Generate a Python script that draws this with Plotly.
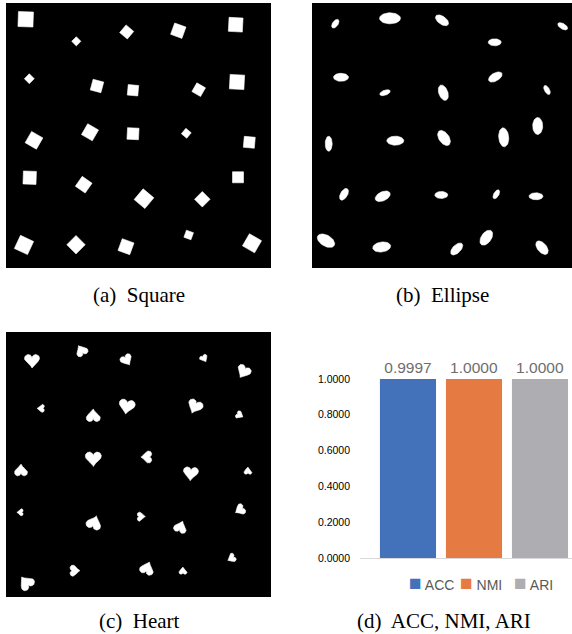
import numpy as np
import plotly.graph_objects as go

W, H = 572, 634
KY = 1.0095  # small vertical correction observed in the rendered page

# ---------------- data (image pixel coordinates inside each panel) ----------------
# (a) squares: centre x, centre y, side, rotation (deg, clockwise)
sq_x = [19.7, 70.3, 120.7, 172.3, 229.7, 23.3, 91.0, 127.0, 192.7, 231.0, 28.0, 84.0, 127.0,
        180.3, 243.3, 23.7, 77.7, 138.0, 196.3, 232.0, 18.0, 70.0, 120.0, 182.7, 246.0]
sq_y = [16.3, 38.3, 29.0, 27.7, 21.7, 75.7, 83.0, 87.3, 86.7, 79.0, 137.3, 129.3, 130.7,
        130.3, 139.3, 174.7, 181.7, 195.7, 196.3, 174.3, 242.0, 241.7, 243.7, 232.0, 240.3]
sq_side = [15, 6.5, 10, 12, 14, 7, 11, 10.5, 10, 14.5, 13, 12.5, 11.5,
           7, 11, 13, 12, 14, 11, 11, 14.5, 13, 12.5, 7.5, 14]
sq_angle = [2, 45, 40, 20, 3, 45, 15, 5, 30, 3, 30, 30, 3,
            40, 5, 2, 35, 40, 45, 0, 25, 45, 20, 20, 30]

# (b) ellipses: centre x, centre y, major, minor, rotation of major axis (deg, clockwise)
el_x = [23.3, 78.0, 130.0, 250.7, 182.7, 29.0, 73.0, 131.3, 183.3, 235.0, 16.7, 83.3, 132.0,
        191.7, 225.7, 32.0, 70.7, 129.3, 184.3, 224.0, 14.0, 69.7, 144.7, 174.3, 230.0]
el_y = [20.7, 15.3, 17.3, 23.3, 39.3, 74.3, 89.7, 89.7, 74.0, 87.0, 140.7, 137.7, 135.0,
        134.3, 123.0, 191.3, 193.3, 192.0, 191.3, 193.3, 237.7, 244.0, 246.0, 234.7, 244.7]
el_major = [10, 21, 15, 11, 13, 15, 11, 16, 15, 10, 15, 17, 17,
            19, 17, 13, 16, 13, 10, 14, 19, 18, 15, 17, 16]
el_minor = [5.5, 11, 8, 5.5, 7, 8, 5, 9, 8, 5, 7, 9, 10,
            10, 10, 7, 9, 7, 5, 7, 11, 10, 8, 10, 9]
el_angle = [-55, 0, 35, 30, 0, 0, -20, 70, -30, 60, 90, 0, 55,
            85, 90, -60, -25, 0, -60, 0, 30, -8, -45, -55, 50]

# (c) hearts: centre x, centre y, width, rotation (deg, clockwise; 0 = point down)
ht_x = [26.0, 75.3, 120.7, 198.0, 237.3, 34.7, 87.3, 120.7, 188.7, 233.7, 15.0, 87.3, 140.3,
        184.7, 242.0, 14.0, 88.3, 135.3, 174.7, 233.7, 69.0, 141.3, 177.0, 225.3, 20.0]
ht_y = [29.3, 18.3, 28.3, 26.7, 40.0, 76.3, 83.3, 75.0, 75.0, 83.3, 138.0, 127.3, 125.0,
        142.0, 138.7, 180.3, 190.3, 184.7, 194.7, 178.0, 238.7, 236.0, 238.7, 226.3, 250.3]
ht_size = [15, 12, 12, 8, 14, 8, 14, 16, 15, 8, 13, 16, 12,
           15, 8, 7, 15, 9, 13, 11, 11, 14, 8, 9, 15]
ht_angle = [0, 150, -30, -30, 30, 90, 180, 10, 25, -60, 180, 0, 90,
            5, 180, 90, 200, -90, 200, 60, -90, 200, 180, 60, 140]

# (d) metrics
metrics = ["ACC", "NMI", "ARI"]
scores = [0.9997, 1.0000, 1.0000]
bar_colors = ["#4372BB", "#E67A43", "#AEAEB2"]
y_ticks = [0.0, 0.2, 0.4, 0.6, 0.8, 1.0]

captions = ["(a)  Square", "(b)  Ellipse", "(c)  Heart", "(d)  ACC, NMI, ARI"]


# ---------------- helpers ----------------
def rotate(px, py, ang):
    a = np.radians(ang)
    return px * np.cos(a) - py * np.sin(a), px * np.sin(a) + py * np.cos(a)


def polys_to_xy(polys):
    xs, ys = [], []
    for px, py in polys:
        xs += list(px) + [px[0], None]
        ys += list(py) + [py[0], None]
    return xs, ys


def squares(cx, cy, side, ang):
    out = []
    for x, y, s, a in zip(cx, cy, side, ang):
        px = np.array([-1, 1, 1, -1]) * s / 2
        py = np.array([-1, -1, 1, 1]) * s / 2
        rx, ry = rotate(px, py, a)
        out.append((rx + x, ry + y))
    return polys_to_xy(out)


def ellipses(cx, cy, major, minor, ang):
    t = np.linspace(0, 2 * np.pi, 48, endpoint=False)
    out = []
    for x, y, M, m, a in zip(cx, cy, major, minor, ang):
        rx, ry = rotate(M / 2 * np.cos(t), m / 2 * np.sin(t), a)
        out.append((rx + x, ry + y))
    return polys_to_xy(out)


def hearts(cx, cy, size, ang):
    t = np.linspace(0, 2 * np.pi, 80, endpoint=False)
    hx = 16 * np.sin(t) ** 3
    hy = -(13 * np.cos(t) - 5 * np.cos(2 * t) - 2 * np.cos(3 * t) - np.cos(4 * t)) - 2.5
    out = []
    for x, y, s, a in zip(cx, cy, size, ang):
        k = s / 32.0
        rx, ry = rotate(hx * k, hy * k, a)
        out.append((rx + x, ry + y))
    return polys_to_xy(out)


def px_x(p):
    return p / W


def px_y(p):
    return max(0.0, 1 - p * KY / H)


fig = go.Figure()

panels = [
    ("x", "y", (6, 271), (3, 268), 265, squares(sq_x, sq_y, sq_side, sq_angle)),
    ("x2", "y2", (312, 572), (3, 268), 260, ellipses(el_x, el_y, el_major, el_minor, el_angle)),
    ("x3", "y3", (6, 271), (332, 597), 265, hearts(ht_x, ht_y, ht_size, ht_angle)),
]

layout_axes = {}
shapes = []
for i, (xa, ya, (x0, x1), (y0, y1), xr, (xs, ys)) in enumerate(panels):
    fig.add_trace(go.Scatter(x=xs, y=ys, xaxis=xa, yaxis=ya, mode="lines", fill="toself",
                             fillcolor="white", line=dict(color="white", width=0.6),
                             hoverinfo="skip", showlegend=False))
    n = "" if i == 0 else str(i + 1)
    layout_axes["xaxis" + n] = dict(domain=[px_x(x0), px_x(x1)], range=[0, xr], visible=False,
                                    fixedrange=True)
    layout_axes["yaxis" + n] = dict(domain=[px_y(y1), px_y(y0)], range=[265, 0], visible=False,
                                    fixedrange=True)
    shapes.append(dict(type="rect", xref=xa + " domain", yref=ya + " domain", x0=0, x1=1,
                       y0=0, y1=1, fillcolor="black", line=dict(width=0), layer="below"))

# bar chart
for m, s, c in zip(metrics, scores, bar_colors):
    fig.add_trace(go.Bar(x=[m], y=[s], name=m, marker=dict(color=c, line=dict(width=0)),
                         width=0.85, text=[f"{s:.4f}"], textposition="outside",
                         textfont=dict(size=15.5, color="#6E6E6E", family="Liberation Sans"),
                         cliponaxis=False, xaxis="x4", yaxis="y4", hoverinfo="skip",
                         showlegend=False))

y_base, y_one = 558, 379
y_top_val = 1.2
y_top_px = y_base - (y_base - y_one) * y_top_val
layout_axes["xaxis4"] = dict(domain=[px_x(360), 1.0], range=[-0.727, 2.485], type="category",
                             categoryorder="array", categoryarray=metrics,
                             showticklabels=False, ticks="", showgrid=False, zeroline=False,
                             showline=True, linecolor="#D9D9D9", linewidth=1.5, anchor="y4",
                             fixedrange=True)
layout_axes["yaxis4"] = dict(domain=[px_y(y_base), px_y(y_top_px)], range=[0, y_top_val],
                             tickvals=y_ticks, ticktext=[f"{v:.4f}" for v in y_ticks],
                             tickfont=dict(size=10.5, color="black", family="Liberation Sans"),
                             showgrid=False, zeroline=False, showline=False, ticks="",
                             ticklabelstandoff=9, anchor="x4", fixedrange=True)

annotations = []
cap_pos = [(139, 295), (442, 295), (139, 621), (444, 621)]
for txt, (cx, cy) in zip(captions, cap_pos):
    annotations.append(dict(text=txt, x=px_x(cx), y=px_y(cy), xref="paper", yref="paper",
                            xanchor="center", yanchor="middle", showarrow=False,
                            font=dict(size=21, color="black", family="Liberation Serif")))

# compact legend (square swatch + label) as in the reference
legend_x = [407, 458, 512]
for m, c, lx in zip(metrics, bar_colors, legend_x):
    annotations.append(dict(text=f'<span style="color:{c};font-size:21px">■</span> {m}',
                            x=px_x(lx), y=px_y(583), xref="paper", yref="paper",
                            xanchor="left", yanchor="middle", showarrow=False,
                            font=dict(size=14, color="#595959", family="Liberation Sans")))

fig.update_layout(
    width=W, height=H, margin=dict(l=0, r=0, t=0, b=0),
    paper_bgcolor="white", plot_bgcolor="white",
    barmode="overlay", shapes=shapes, annotations=annotations,
    showlegend=False,
    **layout_axes,
)

fig.write_html(
    "out.html",
    config={"displayModeBar": False, "staticPlot": True},
    post_script=("document.body.style.margin='0px';"
                 "document.body.style.overflow='hidden';"
                 "document.documentElement.style.overflow='hidden';"),
)
